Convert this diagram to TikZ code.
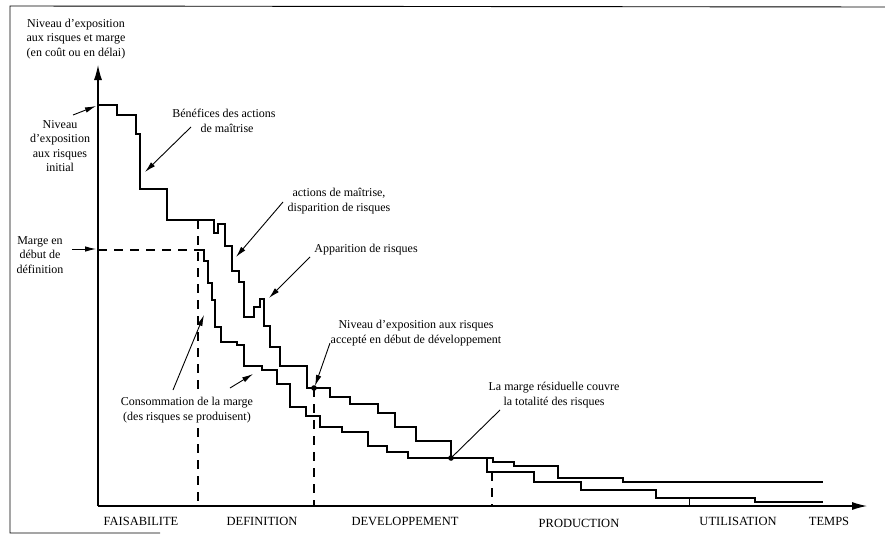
\documentclass[tikz,border=0pt]{standalone}
\usepackage{fontspec}
\setmainfont{Liberation Serif}
\usetikzlibrary{arrows.meta}

\begin{document}
\begin{tikzpicture}[x=1pt,y=-1pt,
  lbl/.style={font=\fontsize{12}{14.5}\selectfont, align=center, inner sep=0pt},
  phase/.style={font=\fontsize{12.5}{14}\selectfont, inner sep=0pt},
  curve/.style={line width=1.1pt, line join=miter},
  ptr/.style={line width=0.9pt, -{Latex[length=11pt,width=5.5pt]}},
  guide/.style={line width=1.3pt, dash pattern=on 9pt off 7pt},
  axis/.style={line width=1.1pt, -{Latex[length=15pt,width=8pt]}},
  frame/.style={line width=0.9pt}]
\useasboundingbox (0,0) rectangle (885,538);

% scanned sheet border (left, top and a stub of the bottom edge)
\draw[frame] (885,7) -- (10,6) -- (10,533) -- (160,533);

% axes
\coordinate (O) at (98,506);
\coordinate (ytip) at (98,65);
\coordinate (xtip) at (867,506);
\draw[axis] (O) -- (ytip);
\draw[axis] (O) -- (xtip);

% phase boundaries
\coordinate (def-top) at (198,220);
\coordinate (def-bot) at (198,506);
\coordinate (dev-top) at (314,388);
\coordinate (dev-bot) at (314,506);
\coordinate (prod-top) at (492,472);
\coordinate (prod-bot) at (492,506);
\coordinate (util-top) at (689,498);
\coordinate (util-bot) at (689,506);
\coordinate (marge-y) at (98,250);
\coordinate (marge-x) at (198,250);
\draw[guide] (def-top) -- (def-bot);
\draw[guide] (dev-top) -- (dev-bot);
\draw[guide] (prod-top) -- (prod-bot);
\draw[line width=1pt] (util-top) -- (util-bot);
\draw[guide] (marge-y) -- (marge-x);

% risk exposure level
\draw[curve] (98,105) -| (117,115) -| (136,134) -| (140,189) -| (167,220)
  -| (214,233) -| (218,224) -| (225,246) -| (232,271) -| (239,282)
  -| (244,317) -| (254,307) -| (260,299) -| (264,326) -| (270,347)
  -| (280,366) -| (307,388) -| (330,397) -| (350,404) -| (378,413)
  -| (395,427) -| (416,441) -| (451,458) -| (493,462) -| (514,466)
  -| (558,478) -| (623,482) -- (823,482);

% margin
\draw[curve] (198,250) -| (204,261) -| (208,283) -| (212,300) -| (215,327)
  -| (221,342) -| (237,345) -| (244,366) -| (262,370) -| (277,384)
  -| (290,407) -| (306,416) -| (320,427) -| (342,432) -| (368,446)
  -| (387,452) -| (408,458) -| (487,472) -| (534,482) -| (581,490)
  -| (656,498) -| (755,502) -- (823,502);
\draw[line width=1.8pt] (451,458) -- (487,458);

% marked points
\coordinate (dot-dev) at (314,388);
\coordinate (dot-res) at (451,458);
\fill (dot-dev) circle (2.8pt);
\fill (dot-res) circle (2.8pt);

% labels
\node[lbl] (ylabel) at (76,39) {Niveau d'exposition\\aux risques et marge\\(en coût ou en délai)};
\node[lbl] (initial) at (60,146) {Niveau\\d'exposition\\aux risques\\initial};
\node[lbl] (marge) at (40,255) {Marge en\\début de\\définition};
\node[lbl] (benef) at (224,121) {Bénéfices des actions\\\hspace*{6pt}de maîtrise};
\node[lbl] (actions) at (339,201) {actions de maîtrise,\\disparition de risques};
\node[lbl] (appar) at (366,250) {Apparition de risques};
\node[lbl] (accepte) at (416,333) {Niveau d'exposition aux risques\\accepté en début de développement};
\node[lbl] (residuel) at (554,395) {La marge résiduelle couvre\\la totalité des risques};
\node[lbl, fill=white, inner sep=1pt] (conso) at (187,410) {Consommation de la marge\\(des risques se produisent)};

\node[phase] (faisa) at (141,521) {FAISABILITE};
\node[phase] (defi) at (262,521) {DEFINITION};
\node[phase] (devel) at (405,521) {DEVELOPPEMENT};
\node[phase] (prod) at (579,523) {PRODUCTION};
\node[phase] (util) at (738,521) {UTILISATION};
\node[phase] (temps) at (829,521) {TEMPS};

% pointers
\coordinate (p-init-a) at (73,115);   \coordinate (p-init-b) at (96,106);
\coordinate (p-marge-a) at (72,249);  \coordinate (p-marge-b) at (96,249);
\coordinate (p-ben-a) at (191,127);   \coordinate (p-ben-b) at (145,172);
\coordinate (p-act-a) at (283,202);   \coordinate (p-act-b) at (236,257);
\coordinate (p-app-a) at (310,257);   \coordinate (p-app-b) at (269,298);
\coordinate (p-acc-a) at (330,343);   \coordinate (p-acc-b) at (315,386);
\coordinate (p-res-a) at (500,410);
\coordinate (p-con1-a) at (173,390);  \coordinate (p-con1-b) at (204,315);
\coordinate (p-con2-a) at (230,388);  \coordinate (p-con2-b) at (253,374);
\draw[ptr] (p-init-a) -- (p-init-b);
\draw[ptr] (p-marge-a) -- (p-marge-b);
\draw[ptr] (p-ben-a) -- (p-ben-b);
\draw[ptr] (p-act-a) -- (p-act-b);
\draw[ptr] (p-app-a) -- (p-app-b);
\draw[ptr] (p-acc-a) -- (p-acc-b);
\draw[line width=0.9pt] (p-res-a) -- (dot-res);
\draw[ptr] (p-con1-a) -- (p-con1-b);
\draw[ptr] (p-con2-a) -- (p-con2-b);
\end{tikzpicture}
\end{document}
